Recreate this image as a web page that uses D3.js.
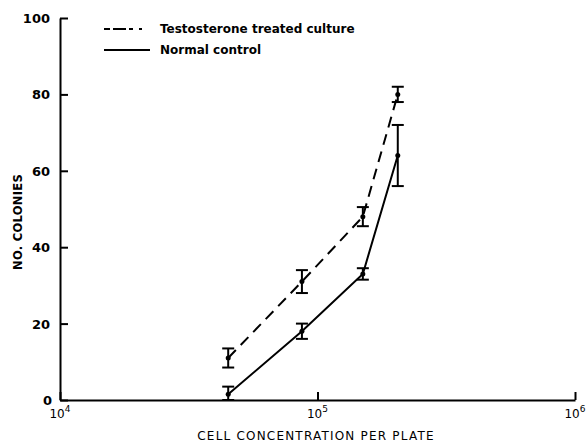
<!DOCTYPE html>
<html>
<head>
<meta charset="utf-8">
<script src="https://cdn.jsdelivr.net/npm/d3@7"></script>
<style>
  body { margin: 0; background: #fff; }
  svg text { font-family: "DejaVu Sans", sans-serif; fill: #000; }
</style>
</head>
<body>
<svg id="chart" width="586" height="445"></svg>
<script>
// cells per plate (x) and colony counts with error half-widths
const cellConc = [45000, 87000, 150000, 205000];
const treatedMean = [11, 31, 48, 80];
const treatedErr = [2.5, 3, 2.5, 2];
const controlMean = [1.5, 18, 33, 64];
const controlErr = [2, 2, 1.5, 8];
const yTicks = [0, 20, 40, 60, 80, 100];
const xTicks = [1e4, 1e5, 1e6];
const seriesNames = ["Testosterone treated culture", "Normal control"];

const svg = d3.select("#chart");
const x = d3.scaleLog().domain([1e4, 1e6]).range([60, 575]);
const y = d3.scaleLinear().domain([0, 100]).range([400, 18]);

// axes: y ticks point inward, x ticks point up
const yAxis = svg.append("g").attr("transform", "translate(60,0)")
  .call(d3.axisRight(y).tickValues(yTicks).tickSize(8).tickSizeOuter(0).tickFormat(""));
yAxis.select(".domain").attr("stroke-width", 2);
yAxis.selectAll(".tick line").attr("stroke-width", 2);

const xAxis = svg.append("g").attr("transform", "translate(0,400)")
  .call(d3.axisTop(x).tickValues(xTicks).tickSize(8).tickSizeOuter(0).tickFormat(""));
xAxis.select(".domain").attr("stroke-width", 2);
xAxis.selectAll(".tick line").attr("stroke-width", 2);

// y tick labels
svg.selectAll(".ylab").data(yTicks).enter().append("text")
  .attr("x", d => d === 0 ? 52 : 50).attr("y", d => y(d) + 5)
  .attr("text-anchor", "end").style("font-size", "13px").style("font-weight", "bold")
  .text(d => d);

// x tick labels with superscript exponent
xTicks.forEach(t => {
  const lab = svg.append("text").attr("x", x(t)).attr("y", 418)
    .attr("text-anchor", "middle").style("font-size", "12px");
  lab.append("tspan").text("10");
  lab.append("tspan").attr("dy", -6).style("font-size", "9px").text(Math.round(Math.log10(t)));
});

// axis titles
svg.append("text").attr("x", 316).attr("y", 440).attr("text-anchor", "middle")
  .style("font-size", "12px").style("letter-spacing", "1.2px")
  .text("CELL CONCENTRATION PER PLATE");
svg.append("text").attr("transform", "translate(22,222) rotate(-90)")
  .attr("text-anchor", "middle").style("font-size", "11.5px").style("font-weight", "bold")
  .style("letter-spacing", "0.3px")
  .text("NO. COLONIES");

// series lines
const line = d3.line().x(d => x(d[0])).y(d => y(d[1]));
const series = [
  { mean: treatedMean, err: treatedErr, dash: "11,7" },
  { mean: controlMean, err: controlErr, dash: null }
];

series.forEach(s => {
  const pts = cellConc.map((c, i) => [c, s.mean[i]]);
  svg.append("path").attr("d", line(pts)).attr("fill", "none")
    .attr("stroke", "#000").attr("stroke-width", 2)
    .attr("stroke-dasharray", s.dash);

  const g = svg.append("g");
  cellConc.forEach((c, i) => {
    const cx = x(c), lo = y(Math.max(0, s.mean[i] - s.err[i])), hi = y(s.mean[i] + s.err[i]);
    g.append("line").attr("x1", cx).attr("x2", cx).attr("y1", lo).attr("y2", hi)
      .attr("stroke", "#000").attr("stroke-width", 2);
    [lo, hi].forEach(yy => g.append("line").attr("x1", cx - 6).attr("x2", cx + 6)
      .attr("y1", yy).attr("y2", yy).attr("stroke", "#000").attr("stroke-width", 2));
    g.append("circle").attr("cx", cx).attr("cy", y(s.mean[i])).attr("r", 2.5).attr("fill", "#000");
  });
});

// legend
const legend = svg.append("g");
seriesNames.forEach((name, i) => {
  const ly = 29 + i * 21;
  legend.append("line").attr("x1", 104).attr("x2", 150).attr("y1", ly).attr("y2", ly)
    .attr("stroke", "#000").attr("stroke-width", 2)
    .attr("stroke-dasharray", i === 0 ? "6,3,13,3,4" : null);
  legend.append("text").attr("x", 160).attr("y", ly + 4)
    .style("font-size", "12px").style("font-weight", "bold")
    .text(name);
});
</script>
</body>
</html>
